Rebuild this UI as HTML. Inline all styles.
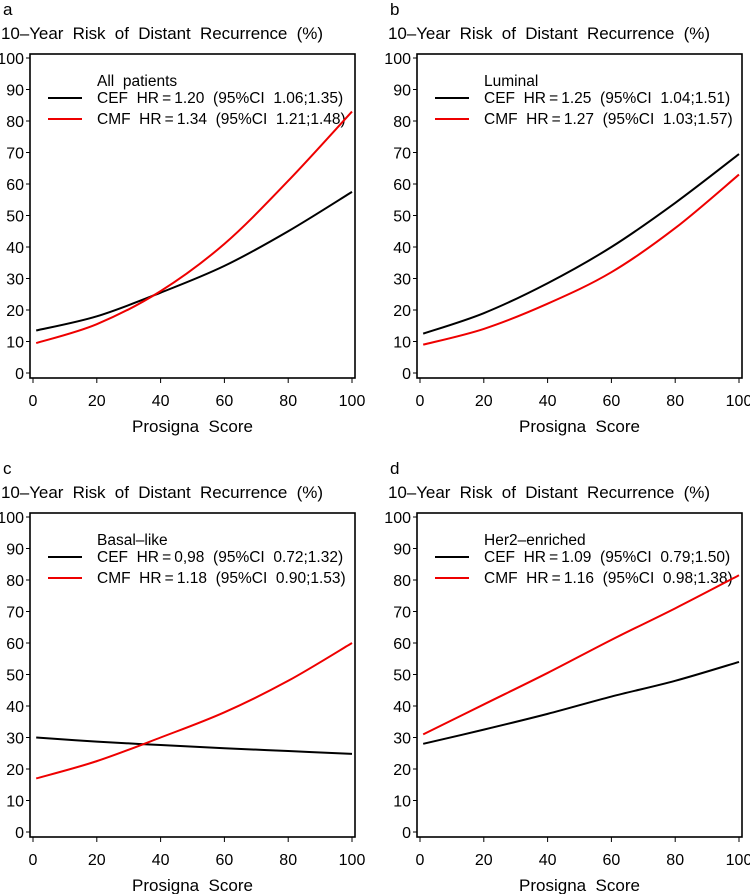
<!DOCTYPE html>
<html><head><meta charset="utf-8"><style>
body{margin:0;background:#fff;}
svg{display:block;font-family:"Liberation Sans",Arial,sans-serif;}
svg text{white-space:pre;}
</style></head><body>
<svg id="c" width="750" height="894" viewBox="0 0 750 894"></svg>
<script>
const xVals=[1,20,40,60,80,100];
const xTicks=[0,20,40,60,80,100];
const yTicks=[0,10,20,30,40,50,60,70,80,90,100];
const panelLetters=["a","b","c","d"];
const subgroupNames=["All  patients","Luminal","Basal\u2013like","Her2\u2013enriched"];
const cefLabels=["CEF  HR\u2009=\u20091.20  (95%CI  1.06;1.35)","CEF  HR\u2009=\u20091.25  (95%CI  1.04;1.51)","CEF  HR\u2009=\u20090,98  (95%CI  0.72;1.32)","CEF  HR\u2009=\u20091.09  (95%CI  0.79;1.50)"];
const cmfLabels=["CMF  HR\u2009=\u20091.34  (95%CI  1.21;1.48)","CMF  HR\u2009=\u20091.27  (95%CI  1.03;1.57)","CMF  HR\u2009=\u20091.18  (95%CI  0.90;1.53)","CMF  HR\u2009=\u20091.16  (95%CI  0.98;1.38)"];
const cefA=[13.5,18,25.5,34,45,57.5];
const cmfA=[9.5,15.5,26,41,61,83];
const cefB=[12.5,19,28.5,40,54,69.5];
const cmfB=[9,14,22,32,46,63];
const cefC=[30,28.7,27.6,26.6,25.7,24.8];
const cmfC=[17,22.5,30,38,48,60];
const cefD=[28,32.5,37.5,43,48,54];
const cmfD=[31,40.5,50.5,61,71,81.5];
const cefSeries=[cefA,cefB,cefC,cefD];
const cmfSeries=[cmfA,cmfB,cmfC,cmfD];

const NS="http://www.w3.org/2000/svg";
const svg=document.getElementById('c');
function mk(tag,attrs,parent,txt){const e=document.createElementNS(NS,tag);for(const k in attrs)e.setAttribute(k,attrs[k]);if(txt!==undefined)e.textContent=txt;parent.appendChild(e);return e;}
const origins=[[0,0],[387,0],[0,459],[387,459]];
function path(pts){let d=`M${pts[0][0]},${pts[0][1]}`;for(let i=0;i<pts.length-1;i++){const p0=pts[Math.max(0,i-1)],p1=pts[i],p2=pts[i+1],p3=pts[Math.min(pts.length-1,i+2)];
d+=` C${p1[0]+(p2[0]-p0[0])/6},${p1[1]+(p2[1]-p0[1])/6} ${p2[0]-(p3[0]-p1[0])/6},${p2[1]-(p3[1]-p1[1])/6} ${p2[0]},${p2[1]}`;}return d;}
panelLetters.forEach((L,i)=>{
 const [ox,oy]=origins[i];
 const g=mk('g',{transform:`translate(${ox},${oy})`},svg);
 
 
 const X=v=>33+(v/100)*319, Y=v=>373-(v/100)*315;
 let t=mk('text',{x:3,y:15,'font-size':17},g,L);
 
 t=mk('text',{x:1,y:39,'font-size':17,textLength:322},g,'10\u2013Year  Risk  of  Distant  Recurrence  (%)');
 
 let r=mk('rect',{x:30,y:54,width:325,height:324,fill:'none',stroke:'#000','stroke-width':1.6},g);
 
 yTicks.forEach(v=>{mk('line',{x1:26,x2:30,y1:Y(v),y2:Y(v),stroke:'#000'},g);
  const tl=mk('text',{x:24,y:Y(v)+6,'font-size':16,'text-anchor':'end'},g,v);
  });
 xTicks.forEach(v=>{mk('line',{x1:X(v),x2:X(v),y1:378,y2:383,stroke:'#000'},g);
  const tl=mk('text',{x:X(v),y:406,'font-size':16,'text-anchor':'middle'},g,v);
  });
 t=mk('text',{x:X(50),y:432,'font-size':17,'text-anchor':'middle'},g,'Prosigna  Score');
 
 t=mk('text',{x:97,y:86,'font-size':15.5},g,subgroupNames[i]);
 
 mk('line',{x1:48,x2:82,y1:98,y2:98,stroke:'#000','stroke-width':2},g);
 t=mk('text',{x:97,y:103,'font-size':15.5},g,cefLabels[i]);
 
 mk('line',{x1:48,x2:82,y1:119,y2:119,stroke:'#e00','stroke-width':2},g);
 t=mk('text',{x:97,y:124,'font-size':15.5},g,cmfLabels[i]);
 
 let p=mk('path',{d:path(xVals.map((x,j)=>[X(x),Y(cefSeries[i][j])])),fill:'none',stroke:'#000','stroke-width':2},g);
 
 p=mk('path',{d:path(xVals.map((x,j)=>[X(x),Y(cmfSeries[i][j])])),fill:'none',stroke:'#e00','stroke-width':2},g);
 
});
</script>
</body></html>
